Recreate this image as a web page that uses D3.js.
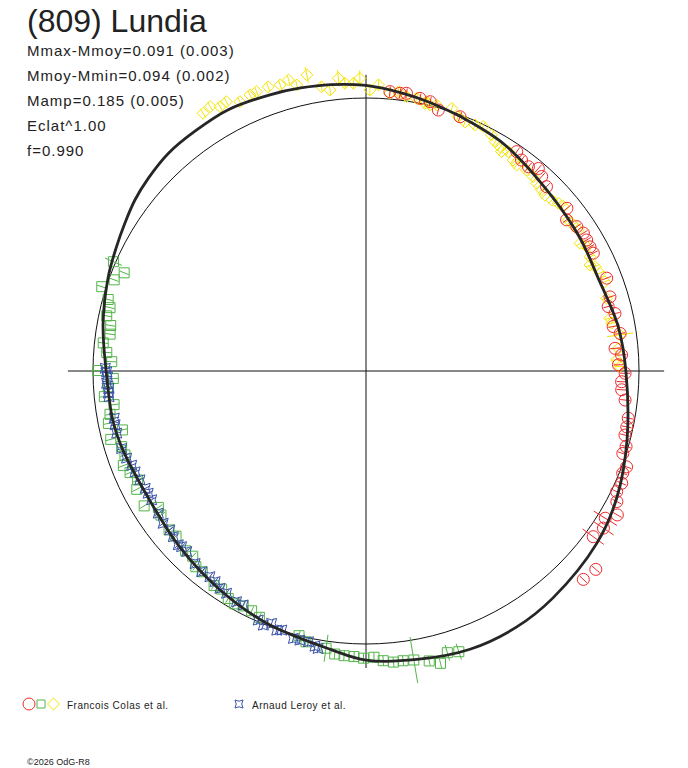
<!DOCTYPE html>
<html>
<head>
<meta charset="utf-8">
<script src="https://cdn.jsdelivr.net/npm/d3@7"></script>
<style>
body { margin: 0; background: #fff; }
svg { display: block; font-family: "Liberation Sans", Arial, sans-serif; }
</style>
</head>
<body>
<script>

const title = "(809) Lundia";
const infoLines = ["Mmax-Mmoy=0.091 (0.003)", "Mmoy-Mmin=0.094 (0.002)", "Mamp=0.185 (0.005)", "Eclat^1.00", "f=0.990"];
const observers = ["Francois Colas et al.", "Arnaud Leroy et al."];
const credit = "\u00a92026 OdG-R8";

// [angle in degrees clockwise from top, radius relative to the reference circle]
const fitCurve = [[0,1.046],[7.6,1.026],[13.4,1.011],[22.7,0.989],[32,0.971],[47,0.934],[58,0.923],[68,0.916],
  [80,0.938],[90,0.952],[104.8,0.989],[116.7,1.029],[126.7,1.055],[140.5,1.077],[149.5,1.088],[159.5,1.088],
  [170,1.073],[180,1.059],[187,1.029],[201.5,0.993],[214,0.963],[227,0.938],[241,0.923],[253,0.938],[259,0.945],
  [270,0.952],[280,0.978],[290,1.005],[296.5,1.021],[301.5,1.036],[306.5,1.053],[311.5,1.065],[317.8,1.077],
  [324.5,1.079],[332.2,1.082],[341,1.071],[347,1.064],[353,1.057]];

// [angle, radius, error bar (optional)]
const colasCircles = [[4.9,1.027],[7.0,1.025],[8.3,1.028],[11.2,1.018],[13.4,1.014],[15.5,0.992],
  [20.3,0.993],[34.5,0.975],[36.4,0.960],[38.5,0.956],[40.4,0.974],[42.1,0.960],[44.4,0.945],[51.0,0.947],
  [53.0,0.920],[55.6,0.936],[57.6,0.943],[59.3,0.940],[61.0,0.938],[62.6,0.938],
  [68.9,0.945],[73.1,0.934],[75.1,0.918],[77.0,0.936],[79.8,0.920],[81.6,0.941],[84.8,0.916],[86.4,0.938],
  [88.6,0.925],[90.5,0.949],[92.4,0.937],[94.2,0.939],[96.4,0.955],[100.2,0.976],[102.1,0.977],[103.9,0.977],
  [106.2,0.992],[107.8,0.988],[110.2,1.017],[111.7,1.012],[113.7,1.023],[115.7,1.019],[117.5,1.036],[119.8,1.061],
  [121.6,1.029,0.05],[123.5,1.043,0.045],[126.1,1.030,0.048],[130.8,1.112],[133.8,1.103]];

const colasSquares = [[293.4,1.008,0.034],[292.1,0.956],[289.9,0.981],[287.7,1.016],[285.5,0.980],[283.9,0.966],
  [282.0,0.971],[280.1,0.950],[278.2,0.947],[276.1,0.968],[274.1,0.952],[272.1,0.932],[270.1,0.983],[268.3,0.926],
  [266.5,0.946],[264.4,0.963],[262.4,0.931],[260.4,0.951],[258.5,0.963],[256.4,0.918],[255.0,0.968],
  [252.8,0.937],[250.8,0.935],[248.7,0.954],[246.7,0.941],[244.5,0.927],[242.7,0.945],[238.7,0.951],[236.7,0.910],
  [234.9,0.918],[231.1,0.927],[229.0,0.922],[225.1,0.933],[223.1,0.929],[221.0,0.950],[219.2,0.949],[215.3,0.963],
  [213.5,0.958],[211.2,0.974],[209.4,0.979],[207.6,0.971],[205.5,0.973],[203.4,0.983],[194.2,1.000],[192.5,1.016],
  [188.2,1.026,0.05],[186.3,1.043],[184.4,1.046],[182.4,1.047],[180.5,1.052],[178.4,1.049],
  [176.6,1.063],[174.6,1.071],[172.7,1.070],[170.6,1.073,0.085],[167.7,1.087],[165.7,1.105],[163.9,1.074,0.03],[161.7,1.083,0.03]];

const colasDiamonds = [[327.7,1.117],[329.5,1.124],[331.1,1.106],[332.6,1.111],[334.9,1.089],[337.2,1.097],
  [338.6,1.099],[341.0,1.101],[343.3,1.094],[345.1,1.103],[346.4,1.078],[348.7,1.106,0.03],[351.1,1.054],[352.7,1.038],
  [354.6,1.077,0.03],[355.8,1.057],[357.5,1.055],[358.8,1.072,0.03],[0.8,1.029],[2.5,1.049],[4.9,1.021],[6.6,1.030],
  [8.4,1.016],[10.5,1.016],[12.7,1.011],[14.9,1.008],
  [12.4,1.004],[13.5,1.002],[18.1,1.012],[19.9,0.991],[21.7,0.982],[23.9,0.986],[25.6,0.993],[28.0,0.979],
  [29.4,0.964],[30.9,0.957],[31.7,0.945],[33.0,0.958],[34.9,0.942],[36.2,0.935],[38.6,0.942],[40.7,0.939],
  [42.3,0.929],[44.1,0.924],[45.5,0.919],[47.4,0.925],[48.9,0.935],[50.2,0.941],[53.3,0.925],[54.8,0.929],
  [56.4,0.934],[59.2,0.913],[60.6,0.928],[63.0,0.921],[65.5,0.922],[64.7,0.908],[67.3,0.929],[69.5,0.934],
  [73.2,0.921],[77.8,0.914],[79.0,0.917],[81.9,0.940,0.048],[84.9,0.928],[87.5,0.919],[89.0,0.930]];

const leroyStars = [[270.6,0.955],[269.8,0.950],[268.7,0.947],[267.3,0.951],[266.1,0.944],[265.1,0.947],[264.3,0.946],
  [259.4,0.938],[257.9,0.940],[256.0,0.941],
  [252.4,0.939],[250.0,0.933],[248.1,0.925],[246.4,0.923],[244.3,0.919],[242.0,0.916],[240.7,0.915],[239.0,0.916],
  [235.6,0.922],[233.1,0.929],[231.0,0.925],[229.3,0.931],[227.2,0.937],[226.4,0.933],[224.8,0.932],[221.6,0.943],
  [219.3,0.950],[217.2,0.946],[215.6,0.949],[213.9,0.959],
  [212.1,0.961],[209.3,0.969],[207.7,0.968],[203.4,0.994],[202.0,1.004],[200.5,0.987],[199.0,1.004],[198.0,0.998],
  [195.2,1.015],[193.8,1.015],[192.0,1.014],[190.5,1.025],[189.8,1.031]];

const width = 688, height = 768;
const cx = 366, cy = 371;
const defaultErr = 0.018;

const svg = d3.select('body').append('svg')
    .attr('width', width)
    .attr('height', height);

const rScale = d3.scaleLinear().domain([0, 1]).range([0, 273]);
const aScale = d3.scaleLinear().domain([0, 360]).range([0, 2 * Math.PI]);

const plot = svg.append('g').attr('transform', `translate(${cx},${cy})`);

function pos(angle, r) {
    const a = aScale(angle), rr = rScale(r);
    return [rr * Math.sin(a), -rr * Math.cos(a)];
}

// reference circle and axes
plot.append('circle')
    .attr('r', rScale(1))
    .attr('fill', 'none')
    .attr('stroke', '#111')
    .attr('stroke-width', 1);

const axisR = rScale(1.092);
plot.append('line').attr('x1', -axisR).attr('x2', axisR).attr('y1', 0).attr('y2', 0)
    .attr('stroke', '#111').attr('stroke-width', 1);
plot.append('line').attr('x1', 0).attr('x2', 0).attr('y1', -rScale(1.085)).attr('y2', rScale(1.088))
    .attr('stroke', '#111').attr('stroke-width', 1);

const shapes = {
    circle: 'M6,0A6,6 0 1,1 -6,0A6,6 0 1,1 6,0Z',
    square: 'M-5,-5H5V5H-5Z',
    diamond: 'M0,-6L6,0L0,6L-6,0Z',
    star: 'M-5,-5Q0,-2 5,-5Q2,0 5,5Q0,2 -5,5Q-2,0 -5,-5Z'
};

function drawSeries(data, shape, color) {
    const g = plot.append('g')
        .attr('fill', 'none')
        .attr('stroke', color)
        .attr('stroke-width', 1);

    g.selectAll('line')
        .data(data)
        .join('line')
        .each(function (d) {
            const e = d[2] || defaultErr;
            const p0 = pos(d[0], d[1] - e), p1 = pos(d[0], d[1] + e);
            d3.select(this).attr('x1', p0[0]).attr('y1', p0[1]).attr('x2', p1[0]).attr('y2', p1[1]);
        });

    g.selectAll('path')
        .data(data)
        .join('path')
        .attr('d', shapes[shape])
        .attr('transform', d => `translate(${pos(d[0], d[1])})`);
}

drawSeries(colasSquares, 'square', '#52b548');
drawSeries(colasDiamonds, 'diamond', '#f4e600');
drawSeries(colasCircles, 'circle', '#ee2a2a');
drawSeries(leroyStars, 'star', '#3a52a8');

const fitLine = d3.lineRadial()
    .angle(d => aScale(d[0]))
    .radius(d => rScale(d[1]))
    .curve(d3.curveCatmullRomClosed);

plot.append('path')
    .datum(fitCurve)
    .attr('d', fitLine)
    .attr('fill', 'none')
    .attr('stroke', '#262626')
    .attr('stroke-width', 2.8);

// texts
svg.append('text')
    .attr('x', 27)
    .attr('y', 32)
    .attr('font-size', 32)
    .attr('fill', '#222')
    .text(title);

svg.selectAll('text.info')
    .data(infoLines)
    .join('text')
    .attr('class', 'info')
    .attr('x', 27)
    .attr('y', (d, i) => 56 + i * 25)
    .attr('font-size', 15)
    .attr('letter-spacing', 1)
    .attr('fill', '#222')
    .text(d => d);

// legend
const legend = svg.append('g').attr('fill', 'none').attr('stroke-width', 1);
legend.append('path').attr('d', shapes.circle).attr('stroke', '#ee2a2a').attr('transform', 'translate(29,704)');
legend.append('path').attr('d', 'M-4,-4H4V4H-4Z').attr('stroke', '#52b548').attr('transform', 'translate(41,704)');
legend.append('path').attr('d', shapes.diamond).attr('stroke', '#f4e600').attr('transform', 'translate(53.5,704)');
legend.append('path').attr('d', 'M-4,-4Q0,-1.5 4,-4Q1.5,0 4,4Q0,1.5 -4,4Q-1.5,0 -4,-4Z').attr('stroke', '#3a52a8').attr('transform', 'translate(239,704)');

svg.selectAll('text.legend')
    .data(observers)
    .join('text')
    .attr('class', 'legend')
    .attr('x', (d, i) => i === 0 ? 67 : 252)
    .attr('y', 709)
    .attr('font-size', 10)
    .attr('letter-spacing', 0.5)
    .attr('fill', '#222')
    .text(d => d);

svg.append('text')
    .attr('x', 27)
    .attr('y', 765)
    .attr('font-size', 9)
    .attr('fill', '#222')
    .text(credit);

</script>
</body>
</html>
